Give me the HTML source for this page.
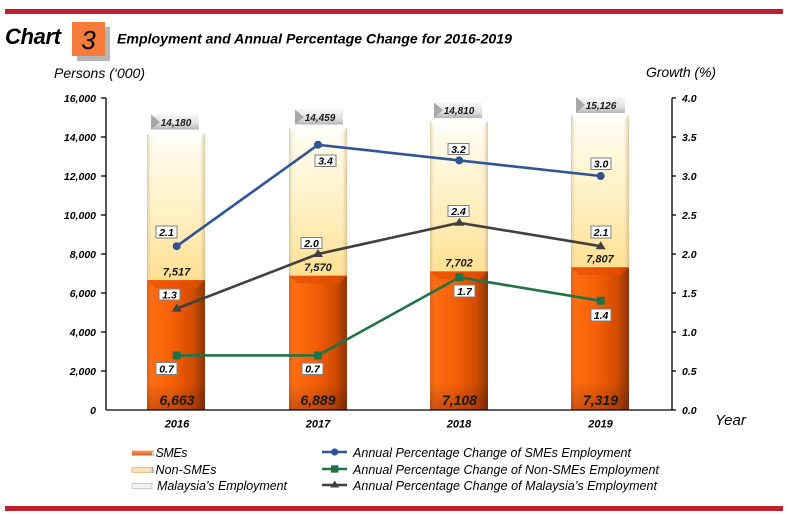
<!DOCTYPE html>
<html><head><meta charset="utf-8"><style>
html,body{margin:0;padding:0;background:#fff;}
svg{display:block;}
text{font-family:"Liberation Sans",Arial,sans-serif;}
</style></head><body>
<svg width="788" height="516" viewBox="0 0 788 516" xmlns="http://www.w3.org/2000/svg">
<defs>
  <linearGradient id="org" x1="0" y1="0" x2="1" y2="0">
    <stop offset="0" stop-color="#d8641c"/>
    <stop offset="0.08" stop-color="#ff6c12"/>
    <stop offset="0.45" stop-color="#f55f06"/>
    <stop offset="0.8" stop-color="#d04c00"/>
    <stop offset="1" stop-color="#8c3406"/>
  </linearGradient>
  <linearGradient id="orgV" x1="0" y1="0" x2="0" y2="1">
    <stop offset="0" stop-color="#000" stop-opacity="0"/>
    <stop offset="0.8" stop-color="#000" stop-opacity="0"/>
    <stop offset="1" stop-color="#400" stop-opacity="0.25"/>
  </linearGradient>
  <linearGradient id="crm" x1="0" y1="0" x2="0" y2="1">
    <stop offset="0" stop-color="#fffdf4"/>
    <stop offset="0.45" stop-color="#fff3cc"/>
    <stop offset="1" stop-color="#ffe092"/>
  </linearGradient>
  <linearGradient id="crmH" x1="0" y1="0" x2="1" y2="0">
    <stop offset="0" stop-color="#c8a468" stop-opacity="0.55"/>
    <stop offset="0.1" stop-color="#fff" stop-opacity="0"/>
    <stop offset="0.88" stop-color="#fff" stop-opacity="0"/>
    <stop offset="1" stop-color="#c09a5a" stop-opacity="0.55"/>
  </linearGradient>
  <linearGradient id="ban" x1="0" y1="0" x2="0" y2="1">
    <stop offset="0" stop-color="#f6f6f6"/>
    <stop offset="0.6" stop-color="#e2e2e2"/>
    <stop offset="1" stop-color="#b4b4b4"/>
  </linearGradient>
  <linearGradient id="lgO" x1="0" y1="0" x2="0" y2="1">
    <stop offset="0" stop-color="#f8a070"/>
    <stop offset="1" stop-color="#e05a18"/>
  </linearGradient>
</defs>

<rect x="5" y="9" width="778" height="5" fill="#c01f30"/>
<rect x="5" y="506" width="778" height="5" fill="#c01f30"/>

<text x="5" y="44" font-size="22" font-weight="bold" font-style="italic" fill="#000" textLength="56">Chart</text>
<rect x="77" y="27" width="33" height="34" fill="#b5b5b5"/>
<rect x="72" y="22" width="33" height="34" fill="#f47b3c"/>
<text x="88.5" y="49" font-size="26" font-style="italic" fill="#000" text-anchor="middle">3</text>
<text x="117" y="43.5" font-size="14" font-weight="bold" font-style="italic" fill="#000" textLength="395" lengthAdjust="spacingAndGlyphs">Employment and Annual Percentage Change for 2016-2019</text>

<text x="54" y="78" font-size="14" font-style="italic" fill="#000" textLength="91">Persons (‘000)</text>
<text x="646" y="77" font-size="14" font-style="italic" fill="#000" textLength="70">Growth (%)</text>

<g>
  <rect x="147" y="133.5" width="58" height="146.6" fill="url(#crm)"/>
  <rect x="147" y="133.5" width="58" height="146.6" fill="url(#crmH)"/>
  <polygon points="147,133.5 205,133.5 197,143 155,143" fill="#fff" opacity="0.6"/>
  <rect x="147" y="280.1" width="58" height="129.9" fill="url(#org)"/>
  <rect x="147" y="280.1" width="58" height="129.9" fill="url(#orgV)"/>
  <polygon points="147,280.1 205,280.1 197,288 155,288" fill="#e64e00" opacity="0.7"/>
  <rect x="289" y="128" width="58" height="147.7" fill="url(#crm)"/>
  <rect x="289" y="128" width="58" height="147.7" fill="url(#crmH)"/>
  <polygon points="289,128 347,128 339,138 297,138" fill="#fff" opacity="0.6"/>
  <rect x="289" y="275.7" width="58" height="134.3" fill="url(#org)"/>
  <rect x="289" y="275.7" width="58" height="134.3" fill="url(#orgV)"/>
  <polygon points="289,275.7 347,275.7 339,283.5 297,283.5" fill="#e64e00" opacity="0.7"/>
  <rect x="430" y="121.2" width="58" height="150.2" fill="url(#crm)"/>
  <rect x="430" y="121.2" width="58" height="150.2" fill="url(#crmH)"/>
  <polygon points="430,121.2 488,121.2 480,131 438,131" fill="#fff" opacity="0.6"/>
  <rect x="430" y="271.4" width="58" height="138.6" fill="url(#org)"/>
  <rect x="430" y="271.4" width="58" height="138.6" fill="url(#orgV)"/>
  <polygon points="430,271.4 488,271.4 480,279.2 438,279.2" fill="#e64e00" opacity="0.7"/>
  <rect x="571" y="115" width="58" height="152.3" fill="url(#crm)"/>
  <rect x="571" y="115" width="58" height="152.3" fill="url(#crmH)"/>
  <polygon points="571,115 629,115 621,125 579,125" fill="#fff" opacity="0.6"/>
  <rect x="571" y="267.3" width="58" height="142.7" fill="url(#org)"/>
  <rect x="571" y="267.3" width="58" height="142.7" fill="url(#orgV)"/>
  <polygon points="571,267.3 629,267.3 621,275 579,275" fill="#e64e00" opacity="0.7"/>
</g>

<g font-size="10" font-weight="bold" font-style="italic" fill="#1a1a1a" text-anchor="middle">
  <rect x="151" y="114.5" width="48" height="15" fill="url(#ban)"/>
  <polygon points="151,114.5 160,122 151,129.5" fill="#a8a8a8"/>
  <text x="176" y="126">14,180</text>
  <rect x="295" y="109.5" width="48" height="15" fill="url(#ban)"/>
  <polygon points="295,109.5 304,117 295,124.5" fill="#a8a8a8"/>
  <text x="320" y="121">14,459</text>
  <rect x="434" y="102.5" width="48" height="15.5" fill="url(#ban)"/>
  <polygon points="434,102.5 443,110 434,118" fill="#a8a8a8"/>
  <text x="459" y="114">14,810</text>
  <rect x="576" y="97" width="49" height="16" fill="url(#ban)"/>
  <polygon points="576,97 585,105 576,113" fill="#a8a8a8"/>
  <text x="601" y="109">15,126</text>
</g>

<g font-size="11" font-weight="bold" font-style="italic" fill="#1a1a1a" text-anchor="middle">
  <text x="176.5" y="275.5">7,517</text>
  <text x="318" y="271">7,570</text>
  <text x="459" y="266.5">7,702</text>
  <text x="600" y="262.5">7,807</text>
</g>
<g font-size="14" font-weight="bold" font-style="italic" fill="#1a1a1a" text-anchor="middle">
  <text x="177" y="405">6,663</text>
  <text x="318" y="405">6,889</text>
  <text x="459.5" y="405">7,108</text>
  <text x="600.5" y="405">7,319</text>
</g>

<g stroke="#000" stroke-width="1.3" fill="none">
  <line x1="106" y1="98" x2="106" y2="410"/>
  <line x1="106" y1="410" x2="672" y2="410"/>
  <line x1="672" y1="98" x2="672" y2="410"/>
  <line x1="101" y1="98" x2="106" y2="98"/>
  <line x1="101" y1="137" x2="106" y2="137"/>
  <line x1="101" y1="176" x2="106" y2="176"/>
  <line x1="101" y1="215" x2="106" y2="215"/>
  <line x1="101" y1="254" x2="106" y2="254"/>
  <line x1="101" y1="293" x2="106" y2="293"/>
  <line x1="101" y1="332" x2="106" y2="332"/>
  <line x1="101" y1="371" x2="106" y2="371"/>
  <line x1="672" y1="98" x2="676" y2="98"/>
  <line x1="672" y1="137" x2="676" y2="137"/>
  <line x1="672" y1="176" x2="676" y2="176"/>
  <line x1="672" y1="215" x2="676" y2="215"/>
  <line x1="672" y1="254" x2="676" y2="254"/>
  <line x1="672" y1="293" x2="676" y2="293"/>
  <line x1="672" y1="332" x2="676" y2="332"/>
  <line x1="672" y1="371" x2="676" y2="371"/>
  <line x1="672" y1="410" x2="676" y2="410"/>
</g>
<g font-size="10.5" font-weight="bold" font-style="italic" fill="#000" text-anchor="end">
  <text x="96" y="102">16,000</text>
  <text x="96" y="141">14,000</text>
  <text x="96" y="180">12,000</text>
  <text x="96" y="219">10,000</text>
  <text x="96" y="258">8,000</text>
  <text x="96" y="297">6,000</text>
  <text x="96" y="336">4,000</text>
  <text x="96" y="375">2,000</text>
  <text x="96" y="414">0</text>
</g>
<g font-size="10.5" font-weight="bold" font-style="italic" fill="#000">
  <text x="682" y="102">4.0</text>
  <text x="682" y="141">3.5</text>
  <text x="682" y="180">3.0</text>
  <text x="682" y="219">2.5</text>
  <text x="682" y="258">2.0</text>
  <text x="682" y="297">1.5</text>
  <text x="682" y="336">1.0</text>
  <text x="682" y="375">0.5</text>
  <text x="682" y="414">0.0</text>
</g>
<g font-size="11" font-weight="bold" font-style="italic" fill="#000" text-anchor="middle">
  <text x="177" y="427.5">2016</text>
  <text x="318" y="427.5">2017</text>
  <text x="459" y="427.5">2018</text>
  <text x="600.5" y="427.5">2019</text>
</g>
<text x="715" y="425" font-size="15" font-style="italic" fill="#000">Year</text>

<polyline points="176.7,246.2 318,144.8 459.3,160.4 600.7,176" fill="none" stroke="#2f5597" stroke-width="2.6"/>
<g fill="#2f5597">
  <circle cx="176.7" cy="246.2" r="4"/><circle cx="318" cy="144.8" r="4"/>
  <circle cx="459.3" cy="160.4" r="4"/><circle cx="600.7" cy="176" r="4"/>
</g>
<polyline points="176.7,355.4 318,355.4 459.3,277.4 600.7,300.8" fill="none" stroke="#217346" stroke-width="2.6"/>
<g fill="#217346">
  <rect x="172.7" y="351.4" width="8" height="8"/><rect x="314" y="351.4" width="8" height="8"/>
  <rect x="455.3" y="273.4" width="8" height="8"/><rect x="596.7" y="296.8" width="8" height="8"/>
</g>
<polyline points="176.7,308.6 318,254 459.3,222.8 600.7,246.2" fill="none" stroke="#404040" stroke-width="2.6"/>
<g fill="#404040">
  <polygon points="176.7,303.6 181.7,311.6 171.7,311.6"/>
  <polygon points="318,249 323,257 313,257"/>
  <polygon points="459.3,217.8 464.3,225.8 454.3,225.8"/>
  <polygon points="600.7,241.2 605.7,249.2 595.7,249.2"/>
</g>

<g fill="#fff" stroke="#7f7f7f" stroke-width="1">
  <rect x="156" y="226" width="21" height="12"/>
  <rect x="315" y="155" width="21" height="11.5"/>
  <rect x="448" y="143.5" width="21" height="11"/>
  <rect x="591" y="158" width="20" height="11.5"/>
  <rect x="159" y="289" width="21" height="11"/>
  <rect x="301" y="237.5" width="21" height="11"/>
  <rect x="448" y="205.5" width="21" height="11"/>
  <rect x="591" y="226" width="20" height="12"/>
  <rect x="156" y="362.5" width="21" height="12"/>
  <rect x="302" y="363" width="21" height="11.5"/>
  <rect x="454" y="285" width="21" height="12"/>
  <rect x="591" y="309" width="20" height="12"/>
</g>
<g font-size="10.5" font-weight="bold" font-style="italic" fill="#000" text-anchor="middle">
  <text x="166.5" y="235.8">2.1</text>
  <text x="325.5" y="164.6">3.4</text>
  <text x="458.5" y="153">3.2</text>
  <text x="601" y="167.6">3.0</text>
  <text x="169.5" y="298.5">1.3</text>
  <text x="311.5" y="247">2.0</text>
  <text x="458.5" y="215">2.4</text>
  <text x="601" y="235.8">2.1</text>
  <text x="166.5" y="372.3">0.7</text>
  <text x="312.5" y="372.6">0.7</text>
  <text x="464.5" y="294.8">1.7</text>
  <text x="601" y="318.8">1.4</text>
</g>

<rect x="132" y="450.5" width="20" height="5" fill="url(#lgO)"/>
<line x1="153" y1="450" x2="153" y2="456" stroke="#999" stroke-width="1"/>
<rect x="132" y="467.5" width="20" height="5" fill="#f8e3b4" stroke="#d8b880" stroke-width="0.8"/>
<line x1="153" y1="467" x2="153" y2="473" stroke="#999" stroke-width="1"/>
<rect x="132" y="483.5" width="20" height="5" fill="#f2f2f2" stroke="#c4c4c4" stroke-width="0.8"/>
<g font-size="12.5" font-style="italic" fill="#000">
  <text x="155.5" y="457" textLength="32">SMEs</text>
  <text x="155.5" y="474" textLength="61">Non-SMEs</text>
  <text x="157" y="490" textLength="130">Malaysia’s Employment</text>
</g>
<line x1="322" y1="452" x2="347" y2="452" stroke="#2f5597" stroke-width="2.6"/>
<circle cx="334.7" cy="452" r="3.6" fill="#2f5597"/>
<line x1="322" y1="469" x2="347" y2="469" stroke="#217346" stroke-width="2.6"/>
<rect x="331" y="465.3" width="7.4" height="7.4" fill="#217346"/>
<line x1="322" y1="485" x2="347" y2="485" stroke="#404040" stroke-width="2.6"/>
<polygon points="334.7,480.5 339.2,487.5 330.2,487.5" fill="#404040"/>
<g font-size="12.5" font-style="italic" fill="#000">
  <text x="353" y="457" textLength="278">Annual Percentage Change of SMEs Employment</text>
  <text x="353" y="474" textLength="306">Annual Percentage Change of Non-SMEs Employment</text>
  <text x="353" y="490" textLength="304">Annual Percentage Change of Malaysia’s Employment</text>
</g>
</svg>
</body></html>
